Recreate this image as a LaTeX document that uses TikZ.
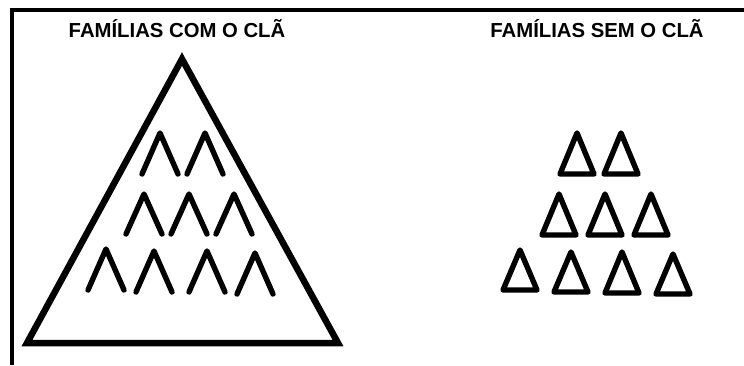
\documentclass[tikz,border=0pt]{standalone}
\usepackage{fontspec}
\setmainfont{Liberation Sans}
\usepackage{tikz}

\tikzset{
  frameline/.style={line width=3.5pt},
  title/.style={font=\fontsize{20.3}{23}\selectfont\bfseries},
  bigtri/.style={line width=6.5pt,line join=miter},
  caret/.style={line width=5.4pt,line cap=round,line join=round},
  smalltri/.style={line width=5.4pt,line join=round}
}

\begin{document}
\begin{tikzpicture}[x=1pt,y=-1pt]
  \useasboundingbox (0,0) rectangle (744,365);
  % frame
  \draw[frameline] (12,10) -- (744,10);
  \draw[frameline] (12,8.3) -- (12,365);
  % titles
  \node[title] (comcla) at (177,29) {FAMÍLIAS COM O CLÃ};
  \node[title] (semcla) at (597,29) {FAMÍLIAS SEM O CLÃ};
  % families with the clan
  \draw[bigtri] (182,59) -- (338,343) -- (27,343) -- cycle;
  \foreach \x/\t/\b in {160/133/174, 205/133/174,
                        144/194/234, 189/194/234, 234/194/234,
                        106/249/290, 154/251/292, 207/251/292, 255/253/294} {
    \draw[caret] ({\x-18},\b) -- (\x,\t) -- ({\x+18},\b);
  }
  % families without the clan
  \foreach \x/\t/\b in {577/133/174, 621/133/174,
                        559/194/235, 605/194/235, 651/194/235,
                        520/250/290, 571/252/292, 622/252/293, 673/254/294} {
    \draw[smalltri] ({\x-17},\b) -- (\x,\t) -- ({\x+17},\b) -- cycle;
  }
\end{tikzpicture}
\end{document}
